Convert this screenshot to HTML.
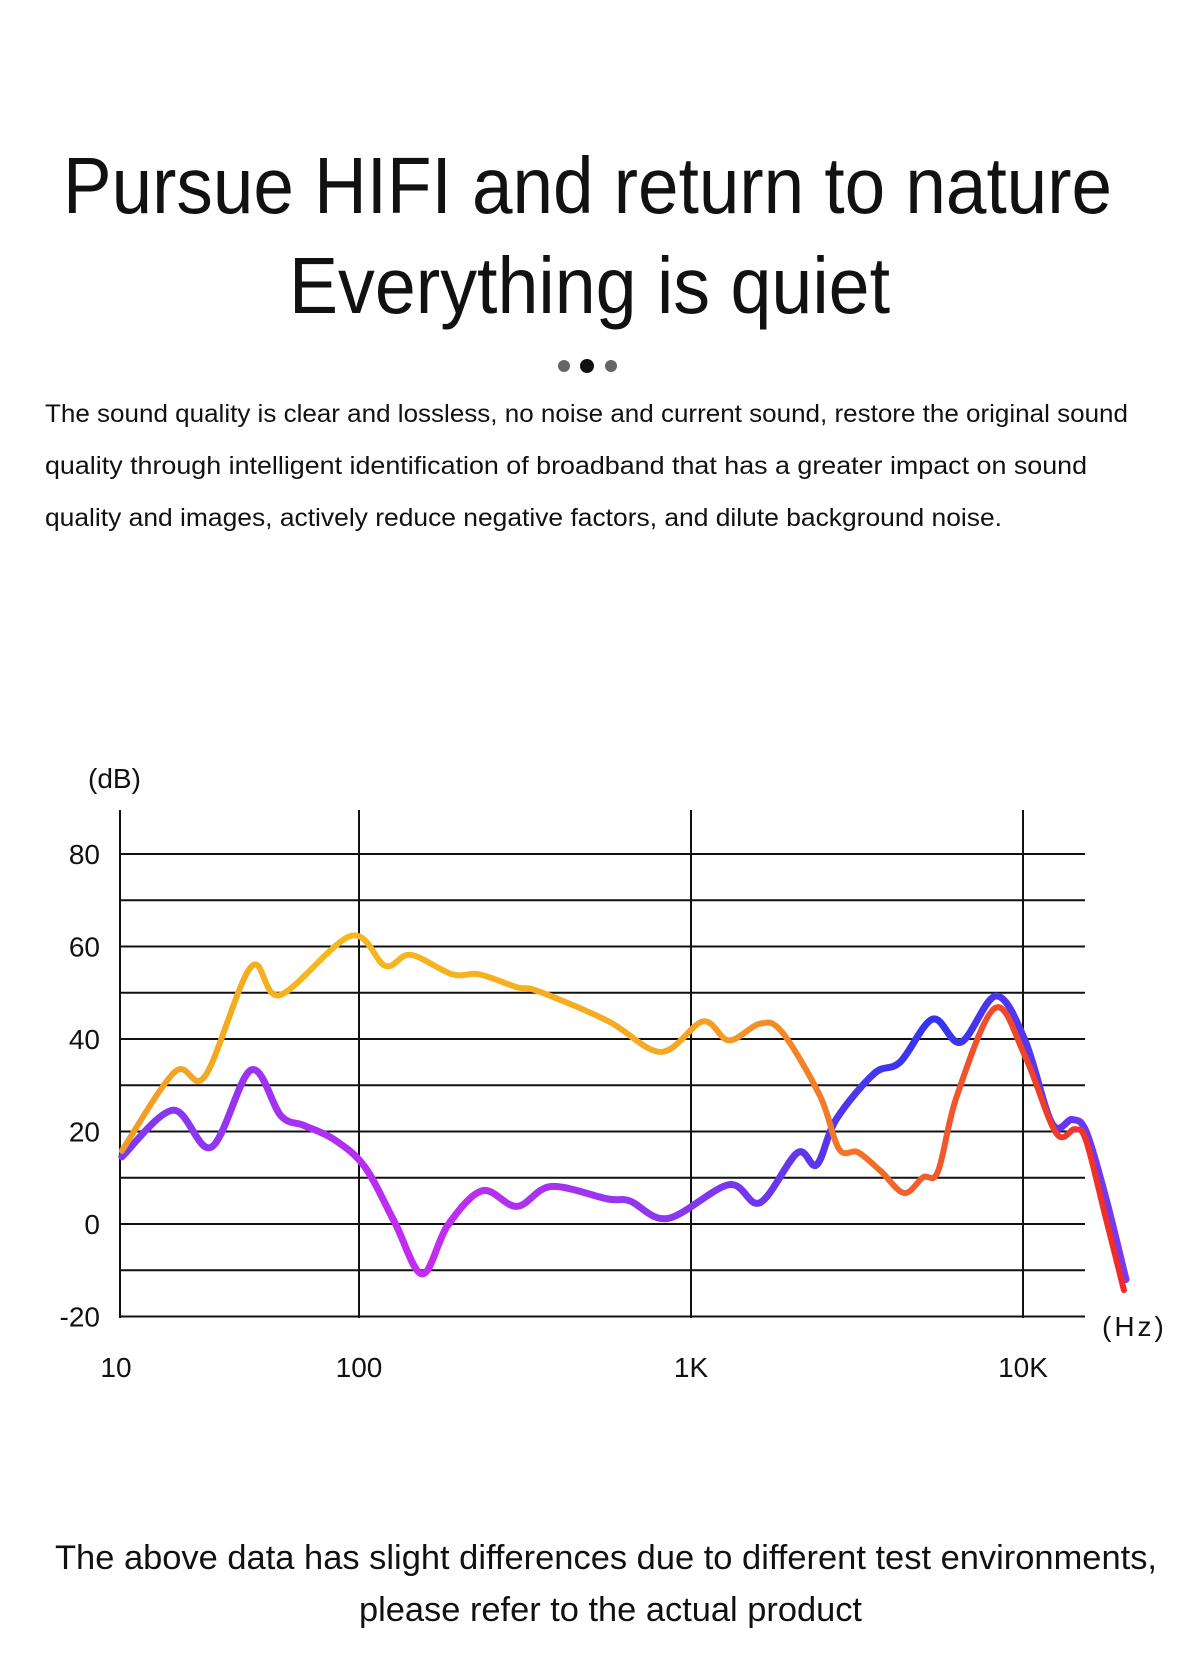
<!DOCTYPE html>
<html><head><meta charset="utf-8"><style>
html,body{margin:0;padding:0;background:#fff;}
svg{display:block;font-family:"Liberation Sans",sans-serif;}
</style></head><body>
<svg id="page" width="1185" height="1656" viewBox="0 0 1185 1656" xmlns="http://www.w3.org/2000/svg">
<defs>
<linearGradient id="gPurple" gradientUnits="userSpaceOnUse" x1="120" y1="0" x2="1130" y2="0">
<stop offset="0" stop-color="#7a3af0"/><stop offset="0.3" stop-color="#c52cf0"/><stop offset="0.55" stop-color="#8a38ee"/><stop offset="0.8" stop-color="#3434ee"/><stop offset="1" stop-color="#7a3af0"/>
</linearGradient>
<linearGradient id="gOrange" gradientUnits="userSpaceOnUse" x1="120" y1="0" x2="1130" y2="0">
<stop offset="0" stop-color="#f29a26"/><stop offset="0.2" stop-color="#f6b81c"/><stop offset="0.55" stop-color="#f6a823"/><stop offset="0.8" stop-color="#f05c2c"/><stop offset="1" stop-color="#f0282a"/>
</linearGradient>
</defs>
<text x="63" y="213" font-size="80" textLength="1049" lengthAdjust="spacingAndGlyphs" fill="#111">Pursue HIFI and return to nature</text>
<text x="289" y="313" font-size="80" textLength="601" lengthAdjust="spacingAndGlyphs" fill="#111">Everything is quiet</text>
<g>
<circle cx="564" cy="366" r="6" fill="#666"/><circle cx="587" cy="366" r="7" fill="#111"/><circle cx="611" cy="366" r="6" fill="#666"/>
</g>
<g font-size="25" fill="#111">
<text x="45" y="422" textLength="1083" lengthAdjust="spacingAndGlyphs">The sound quality is clear and lossless, no noise and current sound, restore the original sound</text>
<text x="45" y="474" textLength="1042" lengthAdjust="spacingAndGlyphs">quality through intelligent identification of broadband that has a greater impact on sound</text>
<text x="45" y="526" textLength="957" lengthAdjust="spacingAndGlyphs">quality and images, actively reduce negative factors, and dilute background noise.</text>
</g>
<g id="chart"></g>
<g font-size="34" fill="#111">
<text x="55" y="1569" textLength="1102" lengthAdjust="spacingAndGlyphs">The above data has slight differences due to different test environments,</text>
<text x="359" y="1621" textLength="503" lengthAdjust="spacingAndGlyphs">please refer to the actual product</text>
</g>
</svg>
<script>
const yTicks=[80,60,40,20,0,-20];
const gridValues=[80,70,60,50,40,30,20,10,0,-10,-20];
const xTickFreqs=[100,1000,10000];
const xTickLabels=["100","1K","10K"];
const purpleFreqs=[19.3,27.5,35.9,47.3,58.2,68.3,84,104,128,155,185,235,299,379,562,654,851,1301,1614,2091,2392,2735,3557,4264,5347,6500,8300,10140,12240,14080,15490,17660,20430];
const purpleValues=[14.5,24.6,16.6,33.3,23.4,21.3,18.3,12.4,0.4,-10.8,-0.3,7.2,3.8,8.1,5.4,5,1.2,8.5,4.6,15.4,12.8,22.6,32.5,35,44.3,39.3,49.3,39.7,21.7,22.6,20,6.3,-12];
const orangeFreqs=[19.3,27.9,34.4,47.3,57.8,94.6,120,143,191,230,299,348,562,812,1087,1301,1614,1880,2446,2793,3186,3733,4385,5000,5547,6324,8238,10140,12570,14350,15490,17660,20140];
const orangeValues=[15.8,32.9,32,55.6,49.5,62.3,55.8,58.2,54,54,51.2,50.3,43.9,37.2,43.8,39.7,43.3,41.5,27.7,16.2,15.5,11.4,6.7,10.1,11.4,27.7,46.7,36.3,19.7,20.5,18,2,-14.3];

const NS="http://www.w3.org/2000/svg";
const chart=document.getElementById('chart');
const X0=120,X1=1085,YT=810,YB=1318;
function xs(f){return 359+332*Math.log10(f/100);}
function ys(v){return 1224-v*4.625;}
function mk(tag,attrs){const e=document.createElementNS(NS,tag);for(const k in attrs)e.setAttribute(k,attrs[k]);chart.appendChild(e);return e;}

gridValues.forEach(v=>{
  const l=mk('line',{x1:X0,x2:X1,y1:ys(v),y2:ys(v),stroke:'#111','stroke-width':2});
  
  
});
const ya=mk('line',{x1:X0,x2:X0,y1:YT,y2:YB,stroke:'#111','stroke-width':2});


xTickFreqs.forEach((f,i)=>{
  const l=mk('line',{x1:xs(f),x2:xs(f),y1:YT,y2:YB,stroke:'#111','stroke-width':2});
  
  
  const t=mk('text',{x:xs(f),y:1377,'font-size':28,'text-anchor':'middle',fill:'#111'});
  t.textContent=xTickLabels[i];
  
  
});
const t10=mk('text',{x:116,y:1377,'font-size':28,'text-anchor':'middle',fill:'#111'});
t10.textContent="10";


yTicks.forEach(v=>{
  const t=mk('text',{x:100,y:ys(v)+10,'font-size':28,'text-anchor':'end',fill:'#111'});
  t.textContent=String(v);
  
  
});
const yt=mk('text',{x:88,y:788,'font-size':28,fill:'#111'});
yt.textContent="(dB)";


const xt=mk('text',{x:1102,y:1336,'font-size':28,fill:'#111','letter-spacing':'3'});
xt.textContent="(Hz)";



function pathFor(fr,vals){
  const p=fr.map((f,i)=>[xs(f),ys(vals[i])]);
  let d='M'+p[0][0].toFixed(1)+','+p[0][1].toFixed(1);
  for(let i=0;i<p.length-1;i++){
    const a=p[i-1]||p[i],b=p[i],c=p[i+1],e=p[i+2]||c;
    const c1=[b[0]+(c[0]-a[0])/6,b[1]+(c[1]-a[1])/6];
    const c2=[c[0]-(e[0]-b[0])/6,c[1]-(e[1]-b[1])/6];
    d+=' C'+c1[0].toFixed(1)+','+c1[1].toFixed(1)+' '+c2[0].toFixed(1)+','+c2[1].toFixed(1)+' '+c[0].toFixed(1)+','+c[1].toFixed(1);
  }
  return d;
}
const pp=mk('path',{d:pathFor(purpleFreqs,purpleValues),fill:'none',stroke:'url(#gPurple)','stroke-width':7,'stroke-linecap':'round','stroke-linejoin':'round'});


const op=mk('path',{d:pathFor(orangeFreqs,orangeValues),fill:'none',stroke:'url(#gOrange)','stroke-width':6,'stroke-linecap':'round','stroke-linejoin':'round'});


</script>
</body></html>
